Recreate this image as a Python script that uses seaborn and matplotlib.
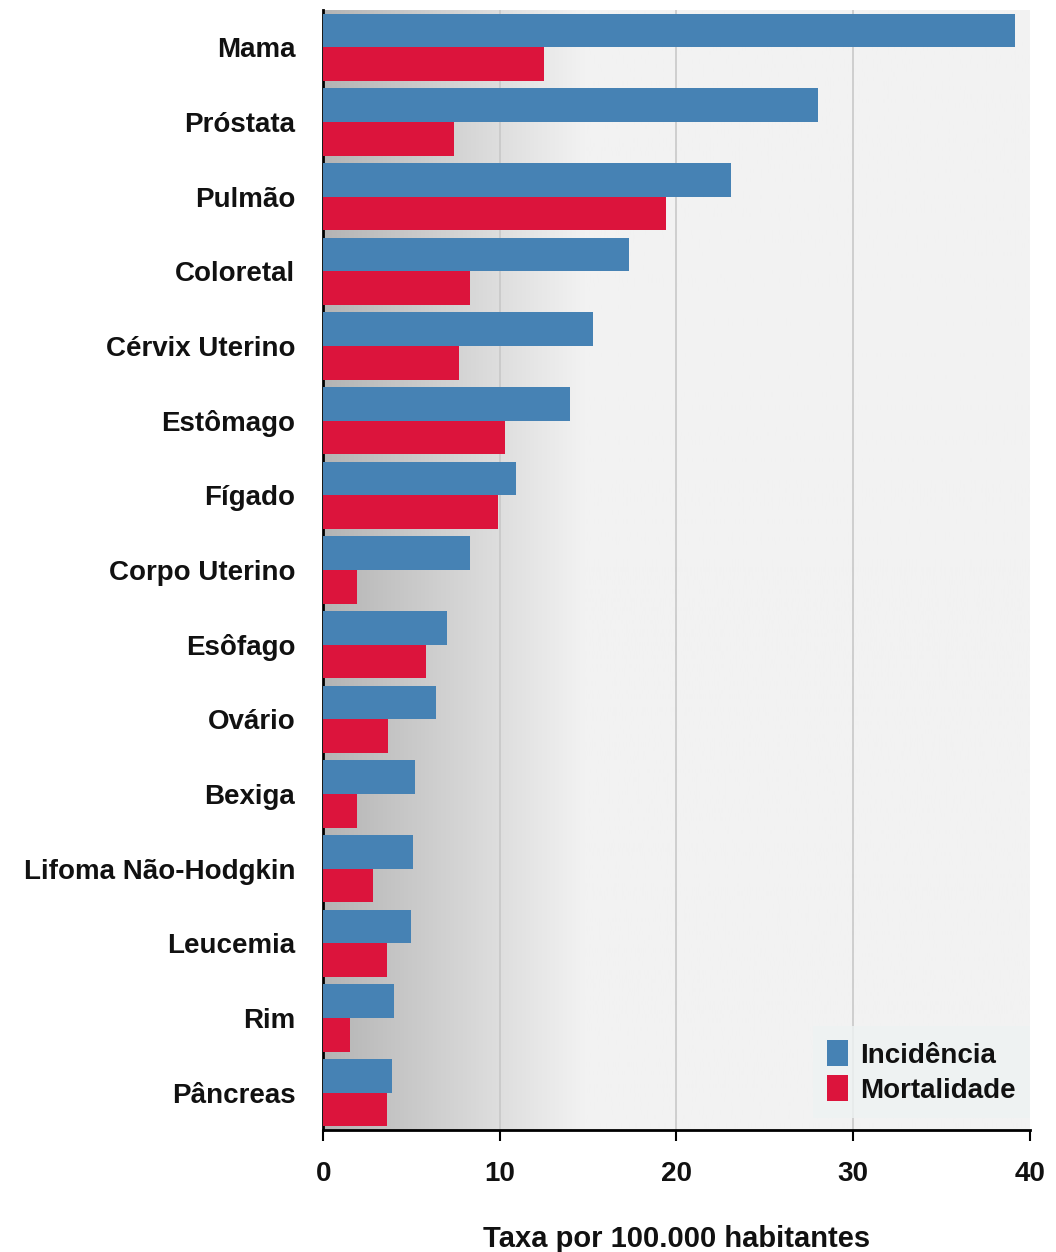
import numpy as np
import pandas as pd
import matplotlib
matplotlib.use("Agg")
import matplotlib.pyplot as plt
import seaborn as sns

categorias = ["Mama", "Próstata", "Pulmão", "Coloretal", "Cérvix Uterino", "Estômago",
              "Fígado", "Corpo Uterino", "Esôfago", "Ovário", "Bexiga",
              "Lifoma Não-Hodgkin", "Leucemia", "Rim", "Pâncreas"]
incidencia = [39.2, 28.0, 23.1, 17.3, 15.3, 14.0, 10.9, 8.3, 7.0, 6.4, 5.2, 5.1, 5.0, 4.0, 3.9]
mortalidade = [12.5, 7.4, 19.4, 8.3, 7.7, 10.3, 9.9, 1.9, 5.8, 3.7, 1.9, 2.8, 3.6, 1.5, 3.6]
series = ["Incidência", "Mortalidade"]
cores = ["#4682b4", "#dc143c"]
eixo_x = "Taxa por 100.000 habitantes"

df = pd.DataFrame({
    "Câncer": categorias * 2,
    "Taxa": incidencia + mortalidade,
    "Tipo": [series[0]] * len(categorias) + [series[1]] * len(categorias),
})

sns.set_theme(style="white")
plt.rcParams["font.family"] = ["Liberation Sans", "DejaVu Sans"]

fig = plt.figure(figsize=(10.56, 12.52), dpi=100)
ax = fig.add_axes([0.306, 0.0974, 0.669, 0.8946])

# grey-to-light background gradient behind the bars
xs = np.linspace(0, 1, 512)
grad = np.clip(xs / 0.37, 0, 1)
ax.imshow(grad[np.newaxis, :], extent=[0, 40, 15 - 0.5, -0.5], aspect="auto",
          cmap=matplotlib.colors.LinearSegmentedColormap.from_list("bg", ["#b4b4b4", "#f2f2f2"]),
          vmin=0, vmax=1, zorder=0)

sns.barplot(data=df, x="Taxa", y="Câncer", hue="Tipo", orient="h",
            palette=cores, width=0.9, saturation=1, linewidth=0, ax=ax, zorder=3)

ax.set_xlim(0, 40)
ax.set_ylim(14.5, -0.5)
ax.set_xticks([0, 10, 20, 30, 40])
for v in [10, 20, 30]:
    ax.axvline(v, color="#c8c8c8", lw=1.2, zorder=1)

for s in ["top", "right"]:
    ax.spines[s].set_visible(False)
for s in ["left", "bottom"]:
    ax.spines[s].set_color("black")
    ax.spines[s].set_linewidth(2)

ax.tick_params(axis="x", bottom=True, length=8, width=1.5, color="black", pad=14,
               labelsize=20)
ax.tick_params(axis="y", left=False, pad=14, labelsize=20)
for t in ax.get_xticklabels() + ax.get_yticklabels():
    t.set_fontweight("bold")
    t.set_color("#111111")
ax.set_ylabel("")
ax.set_xlabel(eixo_x, fontsize=21, fontweight="bold", color="#111111", labelpad=28)

leg = ax.legend(loc="lower right", bbox_to_anchor=(1.0, 0.011), frameon=True,
                fontsize=20, handlelength=0.75, handleheight=1.05, handletextpad=0.45,
                borderaxespad=0.0, borderpad=0.5, labelspacing=0.25, fancybox=False)
leg.get_frame().set_facecolor("#eef3f3")
leg.get_frame().set_edgecolor("none")
for t in leg.get_texts():
    t.set_fontweight("bold")
    t.set_color("#111111")

fig.savefig("out.png", dpi=100)
